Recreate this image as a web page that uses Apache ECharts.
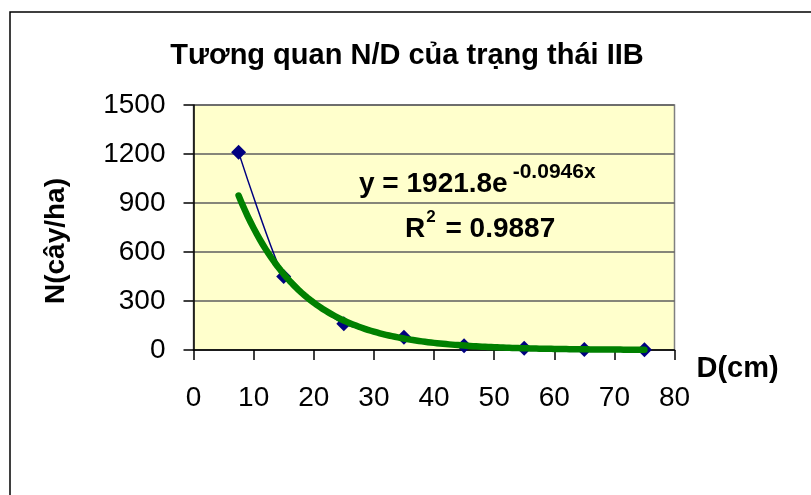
<!DOCTYPE html>
<html>
<head>
<meta charset="utf-8">
<script src="https://cdn.jsdelivr.net/npm/echarts@6/dist/echarts.min.js"></script>
<style>
  html, body { margin: 0; padding: 0; background: #fff; }
  #chart { width: 811px; height: 495px; }
</style>
</head>
<body>
<div id="chart"></div>
<script>
// Diameter classes (cm) and stand density N (trees/ha)
const diameters = [7.5, 15, 25, 35, 45, 55, 65, 75];
const density = [1210, 450, 160, 78, 26, 10, 3, 2];

// Exponential trend line stated on the chart: y = a * e^(b x)
const trendA = 1921.8;
const trendB = -0.0946;
const trendR2 = 0.9887;

const xTicks = [0, 10, 20, 30, 40, 50, 60, 70, 80];
const yTicks = [0, 300, 600, 900, 1200, 1500];

const observed = diameters.map((d, i) => [d, density[i]]);
const trend = [];
for (let x = diameters[0]; x <= diameters[diameters.length - 1] + 1e-9; x += 0.5) {
  trend.push([x, trendA * Math.exp(trendB * x)]);
}

const chart = echarts.init(document.getElementById('chart'), null, { renderer: 'canvas' });
const font = 'Arial, "Liberation Sans", sans-serif';

chart.setOption({
  backgroundColor: '#ffffff',
  animation: false,
  title: {
    text: 'Tương quan N/D của trạng thái IIB',
    left: 402, top: 36, textAlign: 'center',
    textStyle: { fontFamily: font, fontWeight: 'bold', fontSize: 29, color: '#000' }
  },
  grid: {
    left: 193.5, right: 136.5, top: 105, bottom: 145,
    show: true, backgroundColor: '#FFFFCC', borderColor: '#808080', borderWidth: 1.5
  },
  xAxis: {
    type: 'value', min: xTicks[0], max: xTicks[xTicks.length - 1], interval: 10,
    name: 'D(cm)', nameLocation: 'end', nameGap: 0,
    nameTextStyle: { fontFamily: font, fontWeight: 'bold', fontSize: 29, color: '#000',
      align: 'left', verticalAlign: 'top', padding: [4, 0, 0, 22] },
    axisLine: { show: true, lineStyle: { color: '#000', width: 1.5 } },
    axisTick: { show: true, inside: false, length: 10, lineStyle: { color: '#000', width: 1.5 } },
    axisLabel: { fontFamily: font, fontSize: 28, color: '#000', margin: 34 },
    splitLine: { show: false }
  },
  yAxis: {
    type: 'value', min: yTicks[0], max: yTicks[yTicks.length - 1], interval: 300,
    axisLine: { show: true, lineStyle: { color: '#000', width: 1.5 } },
    axisTick: { show: true, inside: false, length: 10, lineStyle: { color: '#000', width: 1.5 } },
    axisLabel: { fontFamily: font, fontSize: 28, color: '#000', margin: 28,
      formatter: v => String(v) },
    splitLine: { show: true, lineStyle: { color: '#5e5e5e', width: 1.5 } }
  },
  series: [
    {
      name: 'N',
      type: 'line',
      data: observed,
      smooth: 0.15,
      symbol: 'diamond',
      symbolSize: 15,
      itemStyle: { color: '#000080' },
      lineStyle: { color: '#000080', width: 1.5 },
      z: 2
    },
    {
      name: 'Trend',
      type: 'line',
      data: trend,
      showSymbol: false,
      symbol: 'none',
      lineStyle: { color: '#008000', width: 6.5, cap: 'round', join: 'round' },
      z: 3
    }
  ],
  graphic: [
    { type: 'rect', shape: { x: 10, y: 12, width: 900, height: 600 },
      style: { fill: 'none', stroke: '#000', lineWidth: 1.5 }, z: 100, silent: true },
    // vertical axis title
    { type: 'text', x: 56, y: 241, rotation: Math.PI / 2, z: 100,
      style: {
        text: 'N(cây/ha)', align: 'center', verticalAlign: 'middle',
        font: 'bold 28px Arial, "Liberation Sans", sans-serif', fill: '#000'
      } },
    // trend line equation and goodness of fit
    { type: 'text', x: 359, y: 162, z: 100,
      style: {
        text: '{b|y = ' + trendA.toFixed(1) + 'e}{s|' + trendB.toFixed(4) + 'x}',
        rich: {
          b: { fontFamily: font, fontWeight: 'bold', fontSize: 28, fill: '#000' },
          s: { fontFamily: font, fontWeight: 'bold', fontSize: 21, fill: '#000', padding: [0, 0, 24, 5] }
        }
      } },
    { type: 'text', x: 405, y: 209, z: 100,
      style: {
        text: '{b|R}{s|2}{b| = ' + trendR2.toFixed(4) + '}',
        rich: {
          b: { fontFamily: font, fontWeight: 'bold', fontSize: 28, fill: '#000' },
          s: { fontFamily: font, fontWeight: 'bold', fontSize: 17, fill: '#000', padding: [0, 2, 24, 1] }
        }
      } }
  ]
});
</script>
</body>
</html>
